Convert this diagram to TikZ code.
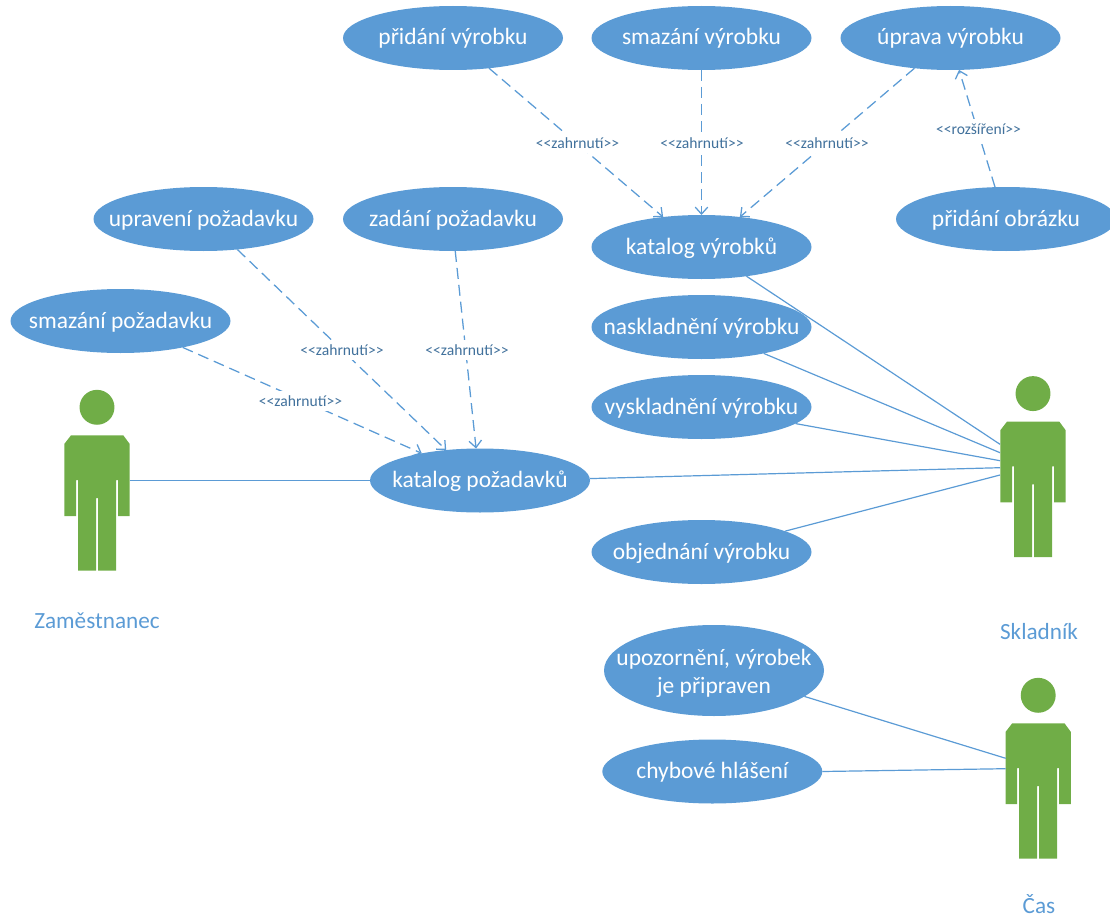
\documentclass[tikz,border=0pt]{standalone}
\usepackage{fontspec}
\setmainfont{Carlito}
\usetikzlibrary{shapes.geometric,arrows.meta}
\definecolor{ucblue}{HTML}{5B9BD5}
\definecolor{ucgreen}{HTML}{70AD47}
\definecolor{uclabel}{HTML}{41719C}
\tikzset{
  usecase/.style={ellipse,fill=ucblue,text=white,minimum width=165pt,minimum height=48pt,inner sep=-45pt,outer sep=0pt,align=center,text height=14pt,text depth=3.5pt,font=\fontsize{17.6}{21}\selectfont},
  assoc/.style={draw=ucblue,line width=.9pt},
  depend/.style={draw=ucblue,line width=.95pt,dash pattern=on 8.25pt off 4.5pt,-{Straight Barb[length=5.2pt,width=9.4pt]}},
  stereo/.style={fill=white,text=uclabel,inner sep=0pt,minimum height=15pt,font=\fontsize{11.7}{13}\selectfont},
  rolename/.style={text=ucblue,inner sep=0pt,font=\fontsize{17.4}{20}\selectfont},
  pics/actor/.style={code={
    \fill[ucgreen] (97,407.3) circle [radius=13.1pt];
    \fill[ucgreen] (71,435.3) -- (123.3,435.3) -- (129.7,444) -- (129.7,516) -- (118,516) -- (118,480) -- (116,480) -- (116,570.7) -- (98,570.7) -- (98,498) -- (96,498) -- (96,570.7) -- (78,570.7) -- (78,480) -- (76,480) -- (76,516) -- (64.3,516) -- (64.3,444) -- cycle;
  }}
}
\begin{document}
\begin{tikzpicture}[x=.75pt,y=-.75pt]
\useasboundingbox (0,0) rectangle (1110,917);
% actors
\pic at (0,0) {actor};
\pic at (936,-13.7) {actor};
\pic at (941.2,288) {actor};
% actor ports
\coordinate (zam) at (129.7,480.5);
\coordinate (skA) at (1000,444.3);
\coordinate (skB) at (1000,452.7);
\coordinate (skC) at (1000,460.7);
\coordinate (skD) at (1000,467.7);
\coordinate (skE) at (1000,475);
\coordinate (casA) at (1005.7,758.3);
\coordinate (casB) at (1005.7,768.7);
% use cases
\node[usecase] (pridV) at (453,38) {přidání výrobku};
\node[usecase] (smazV) at (701.5,38) {smazání výrobku};
\node[usecase] (uprV) at (950.5,38) {úprava výrobku};
\node[usecase] (pridO) at (1006,219) {přidání obrázku};
\node[usecase] (katV) at (701.5,247) {katalog výrobků};
\node[usecase] (uprP) at (203.5,219) {upravení požadavku};
\node[usecase] (zadP) at (453,219) {zadání požadavku};
\node[usecase] (smazP) at (120.5,321) {smazání požadavku};
\node[usecase] (katP) at (480,480.5) {katalog požadavků};
\node[usecase] (nask) at (701.5,327) {naskladnění výrobku};
\node[usecase] (vysk) at (701.5,407) {vyskladnění výrobku};
\node[usecase] (obj) at (701.5,552) {objednání výrobku};
\node[usecase,minimum height=68.25pt,text height=38pt] (upoz) at (714,670.5) {upozornění, výrobek\\je připraven};
\node[usecase] (chyb) at (712.3,771.5) {chybové hlášení};
% role names
\node[rolename] (nZam) at (97,621) {Zaměstnanec};
\node[rolename] (nSkl) at (1039,632) {Skladník};
\node[rolename] (nCas) at (1039,904) {Čas};
% associations
\draw[assoc] (zam) -- (katP.west);
\draw[assoc] (katV.-33.3) -- (skA);
\draw[assoc] (nask.-23) -- (skB);
\draw[assoc] (vysk.-10.1) -- (skC);
\draw[assoc] (katP.1.7) -- (skD);
\draw[assoc] (obj.14.8) -- (skE);
\draw[assoc] (upoz.-16.9) -- (casA);
\draw[assoc] (chyb.east) -- (casB);
% dependencies
\draw[depend] (pridV.-40.7) -- (katV.142.1);
\draw[depend] (smazV.south) -- (katV.north);
\draw[depend] (uprV.-140.4) -- (katV.38.7);
\draw[depend] (pridO.109) -- (uprV.-75.6);
\draw[depend] (uprP.-42.7) -- (katP.138.2);
\draw[depend] (zadP.-86) -- (katP.97.1);
\draw[depend] (smazP.-23.7) -- (katP.155.9);
% stereotypes
\node[stereo] (s1) at (577.5,143) {<{}<zahrnutí>{}>};
\node[stereo] (s2) at (702,143) {<{}<zahrnutí>{}>};
\node[stereo] (s3) at (827,143) {<{}<zahrnutí>{}>};
\node[stereo] (s4) at (978.5,129) {<{}<rozšíření>{}>};
\node[stereo] (s5) at (342,350) {<{}<zahrnutí>{}>};
\node[stereo] (s6) at (467,350) {<{}<zahrnutí>{}>};
\node[stereo] (s7) at (300.5,401) {<{}<zahrnutí>{}>};
\end{tikzpicture}
\end{document}
